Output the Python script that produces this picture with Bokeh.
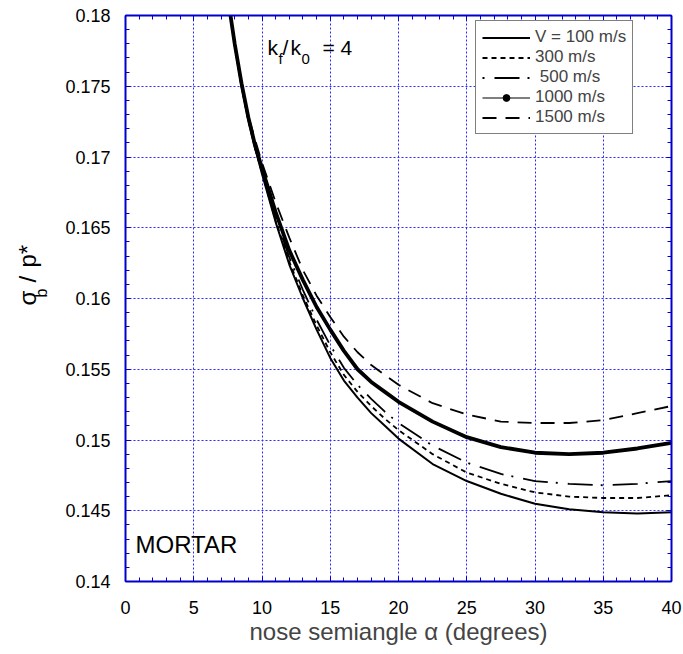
from bokeh.plotting import figure
from bokeh.layouts import row
from bokeh.models import (Range1d, LinearAxis, SingleIntervalTicker, CustomJSTickFormatter,
                          Legend, LegendItem, Label, ColumnDataSource)
from bokeh.embed import file_html
from bokeh.resources import INLINE

# nose semiangle alpha (degrees)
alpha_deg = [7.6, 8, 8.5, 9, 9.5, 10, 11, 12, 13, 14, 15, 16, 17, 18, 19, 20,
             22.5, 25, 27.5, 30, 32.5, 35, 37.5, 40]
# sigma_b / p*  for each striking velocity
v100 = [0.1806, 0.1779, 0.1750, 0.1726, 0.1706, 0.1688, 0.1654, 0.1624, 0.1600, 0.1578,
        0.1558, 0.1542, 0.1530, 0.1519, 0.1510, 0.1501, 0.1483, 0.1471, 0.1462, 0.1455,
        0.1451, 0.1449, 0.1448, 0.1449]
v300 = [0.1806, 0.1779, 0.1750, 0.1726, 0.1706, 0.1689, 0.1655, 0.1626, 0.1602, 0.1581,
        0.1562, 0.1546, 0.1534, 0.1524, 0.1515, 0.1507, 0.1490, 0.1477, 0.1469, 0.1463,
        0.1460, 0.1459, 0.1459, 0.1461]
v500 = [0.1806, 0.1780, 0.1751, 0.1727, 0.1707, 0.1690, 0.1657, 0.1629, 0.1606, 0.1585,
        0.1567, 0.1551, 0.1539, 0.1529, 0.1520, 0.1512, 0.1496, 0.1484, 0.1476, 0.1471,
        0.1469, 0.1468, 0.1469, 0.1471]
v1000 = [0.1806, 0.1780, 0.1752, 0.1728, 0.1708, 0.1692, 0.1661, 0.1634, 0.1613, 0.1594,
         0.1578, 0.1563, 0.1550, 0.1541, 0.1534, 0.1527, 0.1513, 0.1502, 0.1495, 0.1491,
         0.1490, 0.1491, 0.1494, 0.1498]
v1500 = [0.1806, 0.1780, 0.1752, 0.1729, 0.1712, 0.1696, 0.1668, 0.1643, 0.1620, 0.1602,
         0.1587, 0.1573, 0.1562, 0.1553, 0.1546, 0.1539, 0.1526, 0.1518, 0.1513, 0.1512,
         0.1512, 0.1514, 0.1519, 0.1524]
series_labels = ["V = 100 m/s", "300 m/s", " 500 m/s", "1000 m/s", "1500 m/s"]

FONT = "Liberation Sans"
BLUE = "#0000cc"
GRID = "#2a2aff"
H = 652

p = figure(width=633, height=H, output_backend="svg", toolbar_location=None,
           x_range=Range1d(0, 40), y_range=Range1d(0.14, 0.18),
           min_border_left=75, min_border_top=15, min_border_right=12, min_border_bottom=71)
p.outline_line_color = None
p.background_fill_color = "white"
p.border_fill_color = "white"

xt = SingleIntervalTicker(interval=5, num_minor_ticks=5)
yt = SingleIntervalTicker(interval=0.005, num_minor_ticks=5)
yfmt = CustomJSTickFormatter(code="return tick.toFixed(3).replace(/0$/, '');")
blank = CustomJSTickFormatter(code="return '';")

def style_axis(ax, labels=True):
    ax.axis_line_color = BLUE
    ax.axis_line_width = 2
    ax.major_tick_line_color = BLUE
    ax.minor_tick_line_color = BLUE
    ax.major_tick_in = 5
    ax.major_tick_out = 0
    ax.minor_tick_in = 4
    ax.minor_tick_out = 0
    ax.major_tick_line_width = 1
    ax.minor_tick_line_width = 1
    if labels:
        ax.major_label_text_font = FONT
        ax.major_label_text_font_size = "18px"
        ax.major_label_text_color = "black"
    else:
        ax.formatter = blank
        ax.major_label_text_font_size = "1px"
        ax.major_label_standoff = 0

p.xaxis.ticker = xt
p.yaxis.ticker = yt
p.yaxis.formatter = yfmt
style_axis(p.xaxis[0])
style_axis(p.yaxis[0])
p.xaxis.major_label_standoff = 19
p.yaxis.major_label_standoff = 15
p.xaxis.axis_label = "nose semiangle \u03b1 (degrees)"
p.xaxis.axis_label_text_font = FONT
p.xaxis.axis_label_text_font_size = "24px"
p.xaxis.axis_label_text_font_style = "normal"
p.xaxis.axis_label_standoff = 1

top_ax = LinearAxis(ticker=xt)
right_ax = LinearAxis(ticker=yt)
style_axis(top_ax, labels=False)
style_axis(right_ax, labels=False)
p.add_layout(top_ax, "above")
p.add_layout(right_ax, "right")

p.xgrid.ticker = xt
p.ygrid.ticker = yt
for g in (p.xgrid[0], p.ygrid[0]):
    g.grid_line_color = GRID
    g.grid_line_dash = "2 2"
    g.grid_line_width = 1

src = ColumnDataSource(dict(a=alpha_deg, v100=v100, v300=v300, v500=v500,
                            v1000=v1000, v1500=v1500))

r100 = p.line("a", "v100", source=src, line_color="black", line_width=2)
r300 = p.line("a", "v300", source=src, line_color="black", line_width=1.8, line_dash="5 4")
r500 = p.line("a", "v500", source=src, line_color="black", line_width=1.8, line_dash="2 10 25 8")
r1000 = p.line("a", "v1000", source=src, line_color="black", line_width=3.8)
r1500 = p.line("a", "v1500", source=src, line_color="black", line_width=1.8, line_dash="14 9")

# legend-only renderers for the 1000 m/s entry (thin line with a dot)
l1000 = p.line("a", "v1000", source=src, line_color="black", line_width=1.2, visible=False)
m1000 = p.scatter("a", "v1000", source=src, marker="circle", size=4,
                  fill_color="black", line_color="black", visible=False)

legend = Legend(items=[
    LegendItem(label=series_labels[0], renderers=[r100]),
    LegendItem(label=series_labels[1], renderers=[r300]),
    LegendItem(label=series_labels[2], renderers=[r500]),
    LegendItem(label=series_labels[3], renderers=[l1000, m1000]),
    LegendItem(label=series_labels[4], renderers=[r1500]),
], location=(350, 447))
legend.label_text_font = FONT
legend.label_text_font_size = "17px"
legend.label_text_line_height = 1.0
legend.label_height = 17
legend.glyph_height = 17
legend.glyph_width = 48
legend.label_standoff = 5
legend.spacing = 0
legend.padding = 6
legend.margin = 0
legend.border_line_color = "black"
legend.border_line_width = 1.5
legend.background_fill_color = "white"
legend.background_fill_alpha = 1
p.add_layout(legend)

def lab(fig, text, x, y, size, angle=0):
    fig.add_layout(Label(x=x, y=y, x_units="screen", y_units="screen", text=text,
                         text_font=FONT, text_font_size=size, text_color="black",
                         angle=angle, angle_units="deg", text_align="left",
                         text_baseline="alphabetic"))

# k_f / k_0 = 4
lab(p, "k", 142, 534, "21px")
lab(p, "f", 153, 523, "15px")
lab(p, "/", 157, 534, "21px")
lab(p, "k", 165, 534, "21px")
lab(p, "0", 176, 523, "15px")
lab(p, "= 4", 197, 534, "21px")

# MORTAR
lab(p, "MORTAR", 10, 37, "24px")

# narrow panel carrying the y-axis title  sigma_b / p*  (its frame is aligned with p's frame)
ylab = figure(width=50, height=H, output_backend="svg", toolbar_location=None,
              x_range=Range1d(0, 50), y_range=Range1d(0, 1), min_border=0,
              x_axis_location=None, y_axis_location=None)
ylab.outline_line_color = None
ylab.grid.visible = False
FB = 581  # page y of the frame bottom
lab(ylab, "\u03c3", 27, FB - 305, "24px", angle=90)
lab(ylab, "b", 41, FB - 297, "16px", angle=90)
lab(ylab, "/", 27, FB - 282, "24px", angle=90)
lab(ylab, "p*", 27, FB - 267, "24px", angle=90)

layout = row(ylab, p, spacing=0)
open("out.html", "w").write(file_html(layout, INLINE))
